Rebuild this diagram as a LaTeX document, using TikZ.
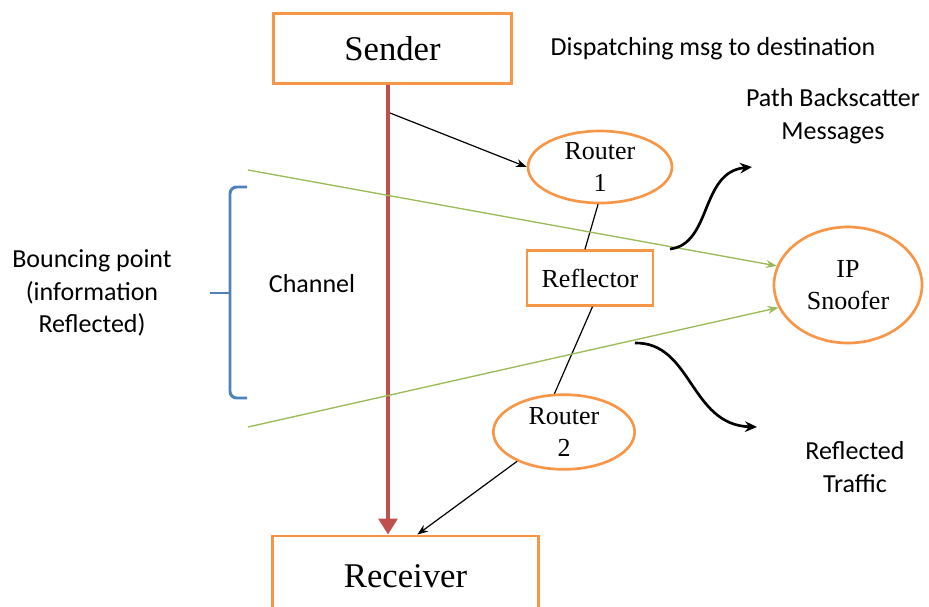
\documentclass[tikz,border=0pt]{standalone}
\usepackage{fontspec}
\setmainfont{Liberation Serif}
\newfontfamily\calibri{Carlito}
\usetikzlibrary{arrows.meta,shapes.geometric}
\definecolor{boxorange}{RGB}{247,150,70}
\definecolor{chanred}{RGB}{192,80,77}
\definecolor{raygreen}{RGB}{155,187,89}
\definecolor{braceblue}{RGB}{79,129,189}

\begin{document}
\begin{tikzpicture}[x=0.75pt,y=0.75pt,yscale=-1,
  endbox/.style={draw=boxorange,line width=2.2pt,inner sep=0pt,font=\fontsize{26}{31}\selectfont},
  hopnode/.style={draw=boxorange,line width=2pt,ellipse,inner sep=0pt,align=center,font=\fontsize{19.5}{24}\selectfont},
  note/.style={align=center,inner sep=0.75pt,font=\calibri\fontsize{19.5}{24.5}\selectfont},
  hop/.style={line width=0.9pt,-{Stealth[length=8pt,width=6pt]}},
  ray/.style={draw=raygreen,line width=1pt,-{Stealth[length=8pt,width=6pt]}},
  wave/.style={line width=2pt,-{Stealth[length=9pt,width=8pt]}}]
\useasboundingbox (0,0) rectangle (929,607);

% Boxes
\node (sender) at (392.5,48.5) [endbox,minimum width=179pt,minimum height=53pt] {Sender};
\node (receiver) at (405.5,576) [endbox,minimum width=199pt,minimum height=60pt] {Receiver};
\node (router1) at (600,167) [hopnode,minimum width=108pt,minimum height=54pt] {Router\\1};
\node (reflector) at (590,278) [endbox,line width=2pt,minimum width=94.5pt,minimum height=41pt,font=\fontsize{19.5}{24}\selectfont] {Reflector};
\node (router2) at (564,432) [hopnode,minimum width=106pt,minimum height=56pt] {Router\\2};
\node (snoofer) at (848,285) [hopnode,minimum width=111pt,minimum height=87pt] {IP\\Snoofer};

% Text Node
\node (dispatch) at (713,49) [note] {Dispatching msg to destination};
\node (backscatter) at (833,116) [note] {Path Backscatter\\Messages};
\node (bouncing) at (92,293) [note] {Bouncing point\\(information\\Reflected)};
\node (channel) at (312,284) [note] {Channel};
\node (reflected) at (855,467) [note] {Reflected\\Traffic};

% free ends
\coordinate (chan) at (388,300);
\coordinate (tap) at (390,113);
\coordinate (rayin1) at (248,170);
\coordinate (rayin2) at (248,427);
\coordinate (bsstart) at (670,249);
\coordinate (bsend) at (752,167);
\coordinate (rtstart) at (635,343);
\coordinate (rtend) at (757,427);

%Straight Lines
\draw [chanred,line width=3pt,-{Triangle[length=12pt,width=14pt]}] (sender.south -| chan) -- (receiver.north -| chan);
\draw [hop] (tap) -- (router1.west);
\draw [line width=0.9pt] (router1.-93) -- (reflector.100);
\draw [line width=0.9pt] (reflector.-85) -- (router2.104);
\draw [hop] (router2.212) -- (receiver.74);
\draw [ray] (rayin1) -- (snoofer.165);
\draw [ray] (rayin2) -- (snoofer.198);

%Curve Lines
\draw [wave] (bsstart) .. controls (712,244) and (700,172) .. (bsend);
\draw [wave] (rtstart) .. controls (692,342) and (690,425) .. (rtend);

% bracket
\draw [braceblue,line width=2.2pt,rounded corners=5pt] (247,187) -- (230,187) -- (230,398) -- (247,398);
\draw [braceblue,line width=2.2pt] (230,293) -- (210,293);

\end{tikzpicture}
\end{document}
